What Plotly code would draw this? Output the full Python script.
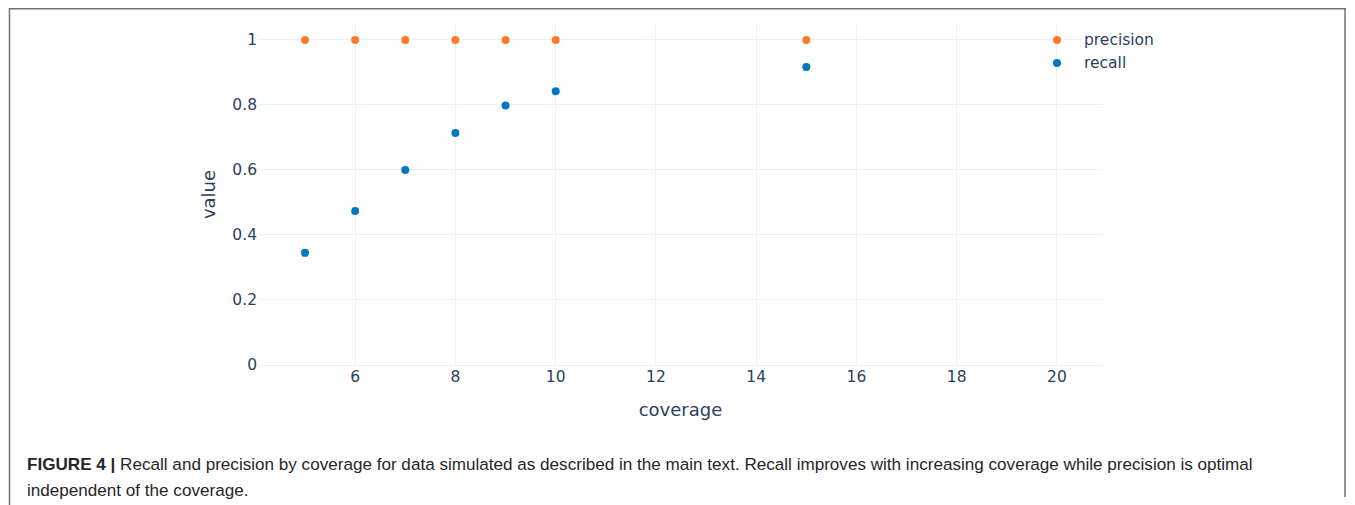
import plotly.graph_objects as go

coverage = [5, 6, 7, 8, 9, 10, 15, 20]
precision = [1.0, 1.0, 1.0, 1.0, 1.0, 1.0, 1.0, 1.0]
recall = [0.345, 0.474, 0.600, 0.714, 0.798, 0.842, 0.917, 0.929]
series_names = ["precision", "recall"]
series_colors = ["#ff7a28", "#0077c1"]

caption_bold = "FIGURE 4 |"
caption_line1 = " Recall and precision by coverage for data simulated as described in the main text. Recall improves with increasing coverage while precision is optimal"
caption_line2 = "independent of the coverage."

# page body has an 8px margin; positions below are in page pixels
OFF = 8
W, H = 1347, 497
ML, MT = 258 - OFF, 24 - OFF
PW, PH = 845, 341
MR = W - ML - PW
MB = H - MT - PH


def px(xp):
    return (xp - OFF - ML) / PW


def py(yp):
    return (MT + PH - (yp - OFF)) / PH


fig = go.Figure()
for name, vals, col in zip(series_names, [precision, recall], series_colors):
    fig.add_trace(go.Scatter(x=coverage, y=vals, mode="markers", name=name,
                             marker=dict(color=col, size=8), showlegend=False))

font_tick = dict(family="DejaVu Sans", size=15.5, color="#2a3f5f")

# end-of-series labels
for name, vals in zip(series_names, [precision, recall]):
    fig.add_annotation(x=coverage[-1], y=vals[-1], xref="x", yref="y", text=name,
                       xanchor="left", yanchor="middle", xshift=24, showarrow=False,
                       font=font_tick, bgcolor="white" if name == "precision" else "rgba(0,0,0,0)",
                       borderpad=2)

# caption
fig.add_annotation(xref="paper", yref="paper", x=px(25), y=py(464), xanchor="left", yanchor="middle",
                   text="<b>" + caption_bold + "</b>" + caption_line1, showarrow=False,
                   font=dict(family="Liberation Sans", size=17.1, color="#262626"))
fig.add_annotation(xref="paper", yref="paper", x=px(25), y=py(490.5), xanchor="left", yanchor="middle",
                   text=caption_line2, showarrow=False,
                   font=dict(family="Liberation Sans", size=17.1, color="#262626"))

# frame
frame_col = "#707070"
fig.add_shape(type="line", xref="paper", yref="paper", x0=px(9), x1=px(1346), y0=py(8.5), y1=py(8.5),
              line=dict(color=frame_col, width=2))
fig.add_shape(type="line", xref="paper", yref="paper", x0=px(9.5), x1=px(9.5), y0=py(8), y1=py(505),
              line=dict(color=frame_col, width=1.5))
fig.add_shape(type="line", xref="paper", yref="paper", x0=px(1345), x1=px(1345), y0=py(8), y1=py(497),
              line=dict(color=frame_col, width=1.5))

fig.update_layout(
    template="plotly_white",
    width=W, height=H,
    margin=dict(l=ML, r=MR, t=MT, b=MB),
    font=dict(family="DejaVu Sans", color="#2a3f5f"),
    xaxis=dict(range=[4.062, 20.918], dtick=2, tick0=0, tickfont=font_tick,
               title=dict(text="coverage", standoff=18,
                          font=dict(family="DejaVu Sans", size=18, color="#2a3f5f")),
               gridcolor="#EBF0F8", zeroline=False, showline=False),
    yaxis=dict(range=[0, 1.049], dtick=0.2, tickfont=font_tick,
               title=dict(text="value", standoff=12,
                          font=dict(family="DejaVu Sans", size=18, color="#2a3f5f")),
               gridcolor="#EBF0F8", zerolinecolor="#EBF0F8", zerolinewidth=1),
)

fig.write_html("out.html")
